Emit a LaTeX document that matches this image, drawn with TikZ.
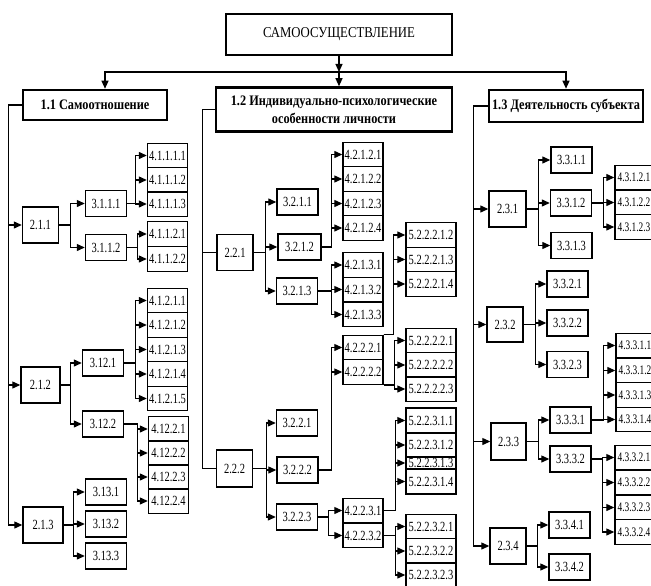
\documentclass[tikz,border=0pt]{standalone}
\usepackage{fontspec}
\setmainfont{Liberation Serif}
\newfontfamily\lblfont[FakeStretch=0.75]{Liberation Serif}
\newfontfamily\edgefont[FakeStretch=0.72]{Liberation Serif}
\newfontfamily\hdfont[FakeStretch=0.85]{Liberation Serif}
\usetikzlibrary{arrows.meta}

\begin{document}
\begin{tikzpicture}
    [x=1pt, y=-1pt,
    box/.style={
        draw,
        line width=1.4pt,
        inner sep=0pt,
        minimum width=41pt,
        minimum height=26pt,
        font=\lblfont\fontsize{14}{14}\selectfont
    },
    mid/.style={box, minimum width=36pt, minimum height=36pt},
    leaf/.style={box, minimum width=40pt, minimum height=24.5pt},
    edgeleaf/.style={box, minimum width=38pt, minimum height=24.5pt,
        font=\edgefont\fontsize{13}{13}\selectfont},
    longleaf/.style={box, minimum width=50pt, minimum height=24.5pt},
    head/.style={
        draw,
        line width=2.6pt,
        inner sep=0pt,
        align=center,
        font=\hdfont\bfseries\fontsize{14.5}{18}\selectfont
    },
    line/.style={draw, line width=1.2pt},
    arr/.style={line, -{Triangle[length=8pt, width=7pt]}}
    ]
    \useasboundingbox (0,0) rectangle (651,586);

    % Root and the three headings
    \node[draw, line width=1.8pt, inner sep=0pt, minimum width=226pt, minimum height=41pt,
        font=\hdfont\fontsize{15}{15}\selectfont] (root) at (339,34.5) {САМООСУЩЕСТВЛЕНИЕ};
    \node[head, minimum width=144pt, minimum height=30pt] (h11) at (95,105) {1.1 Самоотношение};
    \node[head, minimum width=236pt, minimum height=44pt] (h12) at (334,109.5)
        {1.2 Индивидуально-психологические\\особенности личности};
    \node[head, minimum width=154pt, minimum height=32pt] (h13) at (566,106) {1.3 Деятельность субъекта};

    \coordinate (hub) at (339,72);
    \draw[arr] (root) -- (hub);
    \draw[arr] (hub) -- (hub |- h12.north);
    \draw[arr] (hub) -| ([xshift=10pt]h11.north);
    \draw[arr] (hub) -| (h13.north);

    % 1.1 branch
    \node[mid] (n211) at (40.5,225) {2.1.1};
    \node[mid, minimum width=39pt] (n212) at (40.5,385) {2.1.2};
    \node[mid, minimum width=40pt] (n213) at (43,525) {2.1.3};
    \foreach \n in {n211, n212, n213}
        \draw[arr] (h11.west) -- ++(-13,0) |- (\n.west);

    \node[box] (n3111) at (106,203.5) {3.1.1.1};
    \node[box] (n3112) at (106,247.5) {3.1.1.2};
    \node[box] (n3121) at (103,363) {3.12.1};
    \node[box] (n3122) at (103,424) {3.12.2};
    \node[box] (n3131) at (106,492) {3.13.1};
    \node[box] (n3132) at (106,524) {3.13.2};
    \node[box] (n3133) at (106,556) {3.13.3};
    \foreach \n in {n3111, n3112}
        \draw[arr] (n211.east) -- ++(11.5,0) |- (\n.west);
    \foreach \n in {n3121, n3122}
        \draw[arr] (n212.east) -- ++(10,0) |- (\n.west);
    \foreach \n in {n3131, n3132, n3133}
        \draw[arr] (n213.east) -- ++(10,0) |- (\n.west);

    \foreach \i/\y in {1/155.5, 2/180, 3/204}{
        \node[leaf] (n4111\i) at (167.5,\y) {4.1.1.1.\i};
        \draw[arr] (n3111.east) -- ++(8.5,0) |- (n4111\i.west);
    }
    \foreach \i/\y in {1/234, 2/259}{
        \node[leaf] (n4112\i) at (167.5,\y) {4.1.1.2.\i};
        \draw[arr] (n3112.east) -- ++(10.5,0) |- (n4112\i.west);
    }
    \foreach \i/\y in {1/300.5, 2/325, 3/349.5, 4/374, 5/398.5}{
        \node[leaf] (n4121\i) at (167.5,\y) {4.1.2.1.\i};
        \draw[arr] (n3121.east) -- ++(11.5,0) |- (n4121\i.west);
    }
    \foreach \i/\y in {1/429, 2/453, 3/477, 4/501}{
        \node[leaf] (n4122\i) at (168.5,\y) {4.12.2.\i};
        \draw[arr] (n3122.east) -- ++(13.5,0) |- (n4122\i.west);
    }

    % 1.2 branch
    \node[mid] (n221) at (235,252.5) {2.2.1};
    \node[mid, minimum height=37pt] (n222) at (234.5,468.5) {2.2.2};
    \foreach \n in {n221, n222}
        \draw[line] (h12.west) -- ++(-12,0) |- (\n.west);

    \node[box] (n3211) at (297.5,202) {3.2.1.1};
    \node[box, minimum width=43pt] (n3212) at (299.5,247) {3.2.1.2};
    \node[box] (n3213) at (297,291) {3.2.1.3};
    \node[box] (n3221) at (297,423) {3.2.2.1};
    \node[box] (n3222) at (297.5,470) {3.2.2.2};
    \node[box] (n3223) at (297,517) {3.2.2.3};
    \foreach \n in {n3211, n3212, n3213}
        \draw[arr] (n221.east) -- ++(12,0) |- (\n.west);
    \foreach \n in {n3221, n3222, n3223}
        \draw[arr] (n222.east) -- ++(13,0) |- (\n.west);

    \foreach \i/\y in {1/154.5, 2/179, 3/203.5, 4/228}{
        \node[leaf] (n4212\i) at (363,\y) {4.2.1.2.\i};
        \draw[arr] (n3212.east) -- ++(10,0) |- (n4212\i.west);
    }
    \foreach \i/\y in {1/265, 2/289.5, 3/314.5}{
        \node[leaf] (n4213\i) at (363,\y) {4.2.1.3.\i};
        \draw[arr] (n3213.east) -- ++(13.5,0) |- (n4213\i.west);
    }
    \foreach \i/\y in {1/347.5, 2/372}{
        \node[leaf] (n4222\i) at (363,\y) {4.2.2.2.\i};
        \draw[arr] (n3222.east) -- ++(12.5,0) |- (n4222\i.west);
    }
    \foreach \i/\y in {1/510.5, 2/535.5}{
        \node[leaf] (n4223\i) at (363,\y) {4.2.2.3.\i};
        \draw[arr] (n3223.east) -- ++(10.5,0) |- (n4223\i.west);
    }

    \foreach \i/\y in {2/235, 3/259.5, 4/284}{
        \node[longleaf] (n52221\i) at (431,\y) {5.2.2.2.1.\i};
        \draw[arr] (n42221.north east) -- ++(10,0) |- (n52221\i.west);
    }
    \foreach \i/\y in {1/340.5, 2/365, 3/389}{
        \node[longleaf] (n52222\i) at (431,\y) {5.2.2.2.2.\i};
        \draw[arr] (n42222.south east) -- ++(11,0) |- (n52222\i.west);
    }
    \foreach \i/\y/\h in {1/420.5/25, 2/445/24, 3/463/12, 4/481.5/25}{
        \node[longleaf, minimum height=\h pt] (n52231\i) at (431,\y) {5.2.2.3.1.\i};
        \draw[arr] (n42231.east) -- ++(12,0) |- (n52231\i.west);
    }
    \foreach \i/\y in {1/526.5, 2/551, 3/575}{
        \node[longleaf] (n52232\i) at (431,\y) {5.2.2.3.2.\i};
        \draw[arr] (n42232.east) -- ++(12,0) |- (n52232\i.west);
    }

    % 1.3 branch
    \node[mid, minimum width=37pt] (n231) at (507.5,209) {2.3.1};
    \node[mid, minimum height=35pt] (n232) at (505,324.5) {2.3.2};
    \node[mid, minimum width=35pt, minimum height=37pt] (n233) at (508.5,441.5) {2.3.3};
    \node[mid] (n234) at (508,546) {2.3.4};
    \foreach \n in {n231, n232, n233, n234}
        \draw[arr] (h13.west) -- ++(-14,0) |- (\n.west);

    \node[box] (n3311) at (571.5,160) {3.3.1.1};
    \node[box] (n3312) at (571,203) {3.3.1.2};
    \node[box] (n3313) at (571.5,245.5) {3.3.1.3};
    \node[box] (n3321) at (567.5,284) {3.3.2.1};
    \node[box] (n3322) at (567.5,323) {3.3.2.2};
    \node[box] (n3323) at (567.5,364.5) {3.3.2.3};
    \node[box] (n3331) at (570.5,420) {3.3.3.1};
    \node[box] (n3332) at (570.5,459) {3.3.3.2};
    \node[box] (n3341) at (569.5,525) {3.3.4.1};
    \node[box] (n3342) at (569.5,567) {3.3.4.2};
    \foreach \n in {n3311, n3312, n3313}
        \draw[arr] (n231.east) -- ++(12,0) |- (\n.west);
    \foreach \n in {n3321, n3322, n3323}
        \draw[arr] (n232.east) -- ++(12,0) |- (\n.west);
    \foreach \n in {n3331, n3332}
        \draw[arr] (n233.east) -- ++(12,0) |- (\n.west);
    \foreach \n in {n3341, n3342}
        \draw[arr] (n234.east) -- ++(11,0) |- (\n.west);

    \foreach \i/\y in {1/177.5, 2/202.5, 3/227}{
        \node[edgeleaf] (n4312\i) at (634,\y) {4.3.1.2.\i};
        \draw[arr] (n3312.east) -- ++(11.5,0) |- (n4312\i.west);
    }
    \foreach \i/\y in {1/345.5, 2/370.5, 3/395, 4/419.5}{
        \node[edgeleaf] (n4331\i) at (635,\y) {4.3.3.1.\i};
        \draw[arr] (n3331.east) -- ++(12,0) |- (n4331\i.west);
    }
    \foreach \i/\y in {1/457.5, 2/482.5, 3/507.5, 4/532}{
        \node[edgeleaf] (n4332\i) at (634,\y) {4.3.3.2.\i};
        \draw[arr] (n3332.east) -- ++(11,0) |- (n4332\i.west);
    }
\end{tikzpicture}
\end{document}
